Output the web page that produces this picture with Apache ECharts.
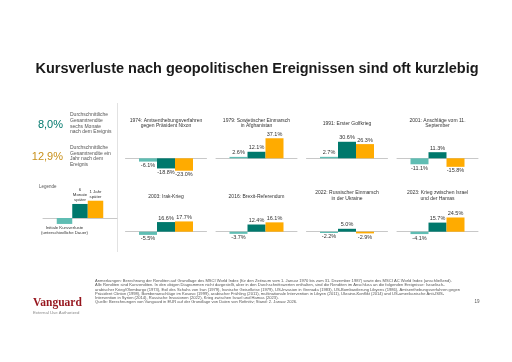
<!DOCTYPE html>
<html><head><meta charset="utf-8">
<script src="https://cdn.jsdelivr.net/npm/echarts@6/dist/echarts.min.js"></script>
<style>html,body{margin:0;padding:0;background:#fff}#c{width:512px;height:362px}</style>
</head><body><div id="c"></div>
<script>
// ---- data ----
const events = [
  '1974: Amtsenthebungsverfahren\ngegen Präsident Nixon',
  '1979: Sowjetischer Einmarsch\nin Afghanistan',
  '1991: Erster Golfkrieg',
  '2001: Anschläge vom 11.\nSeptember',
  '2003: Irak-Krieg',
  '2016: Brexit-Referendum',
  '2022: Russischer Einmarsch\nin der Ukraine',
  '2023: Krieg zwischen Israel\nund der Hamas'
];
const initialLoss = [-6.1, 2.6, 2.7, -11.1, -5.5, -3.7, -2.2, -4.1];
const sixMonths   = [-18.8, 12.1, 30.6, 11.3, 16.6, 12.4, 5.0, 15.7];
const oneYear     = [-23.0, 37.1, 26.3, -15.8, 17.7, 16.1, -2.9, 24.5];
const seriesNames = ['Initiale Kursverluste (unterschiedliche Dauer)', '6 Monate später', '1 Jahr später'];
const legendValues = [-11, 26, 32];
const legendLabels = ['Initiale Kursverluste\n(unterschiedliche Dauer)', '6\nMonate\nspäter', '1 Jahr\nspäter'];
const avg6m = '8,0%';
const avg1y = '12,9%';

const colors = ['#5FBDB3', '#00786C', '#FFAB00'];
const FONT = "'Liberation Sans', Arial, sans-serif";

// ---- layout ----
const colCenters = [166, 256.5, 347, 437.5];
const rowBase = [158.3, 231.7];
const rowScale = [0.54, 0.58];
const yMin = -30, yMax = 40;
const grids = [], xAxes = [], yAxes = [], series = [];

function addPanel(idx, cx, baseY, scale, width, barW, vals, labelFn) {
  const h = (yMax - yMin) * scale;
  grids.push({left: cx - width / 2, width: width, top: baseY - yMax * scale, height: h, containLabel: false});
  xAxes.push({gridIndex: idx, type: 'category', data: ['x'], axisLine: {show: true, onZero: true, lineStyle: {color: '#C8C8C8', width: 1}},
    axisTick: {show: false}, axisLabel: {show: false}, splitLine: {show: false}});
  yAxes.push({gridIndex: idx, type: 'value', min: yMin, max: yMax, show: false, splitLine: {show: false}});
  vals.forEach((v, k) => {
    series.push({
      type: 'bar', name: seriesNames[k], xAxisIndex: idx, yAxisIndex: idx,
      barWidth: barW, barGap: '0%', animation: false,
      itemStyle: {color: colors[k]},
      data: [{value: v, label: {position: v >= 0 ? 'top' : 'bottom'}}],
      label: {show: true, distance: 1.5, fontFamily: FONT, fontSize: labelFn ? 4.3 : 5.5, lineHeight: 5, color: '#333',
        formatter: labelFn ? () => labelFn(k) : (p) => p.value.toFixed(1) + '%'}
    });
  });
}

for (let i = 0; i < 8; i++) {
  const r = Math.floor(i / 4), c = i % 4;
  addPanel(i, colCenters[c], rowBase[r], rowScale[r], 81, 18, [initialLoss[i], sixMonths[i], oneYear[i]], null);
}
addPanel(8, 80, 218, 0.54, 74, 15.5, legendValues, (k) => legendLabels[k]);

// ---- text graphics ----
const g = [];
g.push({type: 'text', x: 257, y: 68.5, style: {text: 'Kursverluste nach geopolitischen Ereignissen sind oft kurzlebig',
  fontFamily: FONT, fontSize: 14.5, fontWeight: 'bold', fill: '#1a1a1a', textAlign: 'center', textVerticalAlign: 'middle'}});
const titleY = [[123.2, 124], [195.7, 197]];
for (let i = 0; i < 8; i++) {
  const r = Math.floor(i / 4), c = i % 4;
  const two = events[i].indexOf('\n') >= 0;
  g.push({type: 'text', x: colCenters[c], y: two ? titleY[r][0] : titleY[r][1], style: {text: events[i], fontFamily: FONT,
    fontSize: 5, lineHeight: 5.2, fill: '#333', textAlign: 'center', textVerticalAlign: 'middle'}});
}
g.push({type: 'text', x: 63, y: 124.5, style: {text: avg6m, fontFamily: FONT, fontSize: 11, fill: '#00786C', textAlign: 'right', textVerticalAlign: 'middle'}});
g.push({type: 'text', x: 63, y: 157, style: {text: avg1y, fontFamily: FONT, fontSize: 11, fill: '#C8901A', textAlign: 'right', textVerticalAlign: 'middle'}});
g.push({type: 'text', x: 70, y: 123.5, style: {text: 'Durchschnittliche\nGesamtrendite\nsechs Monate\nnach dem Ereignis', fontFamily: FONT, fontSize: 5, lineHeight: 5.7, fill: '#555', textAlign: 'left', textVerticalAlign: 'middle'}});
g.push({type: 'text', x: 70, y: 156, style: {text: 'Durchschnittliche\nGesamtrendite ein\nJahr nach dem\nEreignis', fontFamily: FONT, fontSize: 5, lineHeight: 5.7, fill: '#555', textAlign: 'left', textVerticalAlign: 'middle'}});
g.push({type: 'text', x: 39, y: 186.5, style: {text: 'Legende', fontFamily: FONT, fontSize: 4.5, fill: '#555', textAlign: 'left', textVerticalAlign: 'middle'}});
g.push({type: 'line', shape: {x1: 117.5, y1: 103, x2: 117.5, y2: 252}, style: {stroke: '#E2E2E2', lineWidth: 1}});
const foot = 'Anmerkungen: Berechnung der Renditen auf Grundlage des MSCI World Index (für den Zeitraum vom 1. Januar 1970 bis zum 31. Dezember 1987) sowie des MSCI AC World Index (anschließend).\n' +
 'Alle Renditen sind Kursrenditen. In den obigen Diagrammen nicht dargestellt, aber in den Durchschnittswerten enthalten, sind die Renditen im Anschluss an die folgenden Ereignisse: Israelisch-\n' +
 'arabischer Krieg/Ölembargo (1973), Exil des Schahs von Iran (1979), Iranische Geiselkrise (1979), US-Invasion in Grenada (1983), US-Bombardierung Libyens (1986), Amtsenthebungsverfahren gegen\n' +
 'Präsident Clinton (1998), Bombenanschläge im Kosovo (1999), arabischer Frühling (2011), multinationale Intervention in Libyen (2011), Ukraine-Konflikt (2014) und US-amerikanische Anti-ISIS-\n' +
 'Intervention in Syrien (2014), Russische Invasionen (2022), Krieg zwischen Israel und Hamas (2023).\n' +
 'Quelle: Berechnungen von Vanguard in EUR auf der Grundlage von Daten von Refinitiv; Stand: 2. Januar 2026.';
g.push({type: 'text', x: 95, y: 279, style: {text: foot, fontFamily: FONT, fontSize: 4.1, lineHeight: 4.15, fill: '#555', textAlign: 'left', textVerticalAlign: 'top'}});
g.push({type: 'text', x: 477, y: 301.5, style: {text: '19', fontFamily: FONT, fontSize: 4.5, fill: '#555', textAlign: 'center', textVerticalAlign: 'middle'}});
g.push({type: 'text', x: 33, y: 303, style: {text: 'Vanguard', fontFamily: "'Liberation Serif', 'DejaVu Serif', serif", fontSize: 11.5, fontWeight: 'bold', fill: '#96151D', textAlign: 'left', textVerticalAlign: 'middle'}});
g.push({type: 'text', x: 33, y: 313, style: {text: 'External Use Authorized', fontFamily: FONT, fontSize: 4.3, fill: '#888', textAlign: 'left', textVerticalAlign: 'middle'}});

const chart = echarts.init(document.getElementById('c'), null, {renderer: 'canvas'});
chart.setOption({
  backgroundColor: '#fff', animation: false,
  grid: grids, xAxis: xAxes, yAxis: yAxes, series: series, graphic: g,
  tooltip: {show: false}
});
</script></body></html>
